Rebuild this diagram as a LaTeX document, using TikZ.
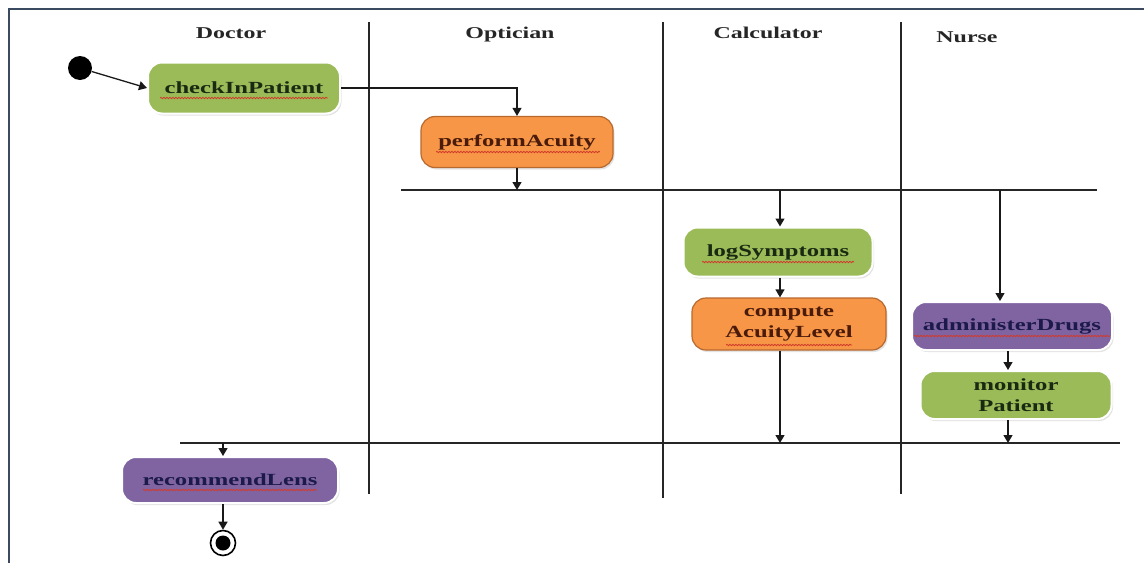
\documentclass[tikz,border=0pt]{standalone}
\usepackage{fontspec}
\setmainfont{Liberation Serif}[FakeStretch=1.45]
\usetikzlibrary{arrows.meta,shadows,decorations.pathmorphing,calc}
\definecolor{frameblue}{HTML}{3A4A60}
\definecolor{actgreen}{HTML}{9BBB59}
\definecolor{actorange}{HTML}{F79646}
\definecolor{orangeedge}{HTML}{B8692E}
\definecolor{actpurple}{HTML}{8064A2}
\definecolor{txtgreen}{HTML}{1A2A12}
\definecolor{txtorange}{HTML}{4A1A0A}
\definecolor{txtpurple}{HTML}{1C1A4A}
\definecolor{squigred}{HTML}{D03A2A}
\tikzset{
  lanetitle/.style={font=\fontsize{16.5}{19}\selectfont\bfseries, text=black!85},
  actbase/.style={rounded corners=14pt, align=center, inner sep=0pt,
    font=\fontsize{17}{21}\selectfont\bfseries,
    drop shadow={opacity=0.22, shadow xshift=1.5pt, shadow yshift=-2pt}},
  greenact/.style={actbase, fill=actgreen, draw=white, line width=2pt, text=txtgreen},
  orangeact/.style={actbase, fill=actorange, draw=orangeedge, line width=1.2pt, text=txtorange},
  purpleact/.style={actbase, fill=actpurple, draw=white, line width=2pt, text=txtpurple},
  laneline/.style={draw=black!85, line width=1.4pt},
  barline/.style={draw=black!85, line width=1.3pt},
  arr/.style={draw=black!90, line width=1.3pt, -{Triangle[width=9pt,length=8pt]}},
  squig/.style={draw=squigred, line width=0.8pt, decorate,
    decoration={snake, amplitude=0.7pt, segment length=3pt}},
}
\begin{document}
\begin{tikzpicture}[x=1pt,y=-1pt]
\useasboundingbox (0,0) rectangle (1144,563);
\fill[white] (0,0) rectangle (1144,563);
% frame
\coordinate (ftl) at (9,9);
\coordinate (ftr) at (1144,9);
\coordinate (fbl) at (9,563);
\draw[frameblue, line width=2pt] (ftr) -- (ftl) -- (fbl);
% lane titles
\node[lanetitle] (tdoc) at (231,33) {Doctor};
\node[lanetitle] (topt) at (510,35) {Optician};
\node[lanetitle] (tcal) at (768,33) {Calculator};
\node[lanetitle] (tnur) at (967,37) {Nurse};
% lane lines
\coordinate (l1t) at (369,22); \coordinate (l1b) at (369,494);
\coordinate (l2t) at (663,22); \coordinate (l2b) at (663,498);
\coordinate (l3t) at (901,22); \coordinate (l3b) at (901,494);
\draw[laneline] (l1t) -- (l1b);
\draw[laneline] (l2t) -- (l2b);
\draw[laneline] (l3t) -- (l3b);
% bars
\coordinate (b1l) at (401,190); \coordinate (b1r) at (1097,190);
\coordinate (b2l) at (180,443); \coordinate (b2r) at (1120,443);
\draw[barline] (b1l) -- (b1r);
\draw[barline] (b2l) -- (b2r);
% start
\node[circle, fill=black, minimum size=24pt, inner sep=0pt] (start) at (80,68) {};
% activities
\node[greenact, minimum width=192pt, minimum height=51pt] (check) at (244,88) {checkInPatient};
\node[orangeact, minimum width=192pt, minimum height=51pt] (perform) at (517,142) {performAcuity};
\node[greenact, minimum width=189pt, minimum height=49pt] (logs) at (778,252) {logSymptoms};
\node[orangeact, minimum width=194pt, minimum height=52pt] (compute) at (789,324) {compute\\AcuityLevel};
\node[purpleact, minimum width=200pt, minimum height=48pt] (admin) at (1012,326) {administerDrugs};
\node[greenact, minimum width=191pt, minimum height=48pt] (monitor) at (1016,395) {monitor\\Patient};
\node[purpleact, minimum width=216pt, minimum height=46pt] (recom) at (230,480) {recommendLens};
% end
\node[circle, draw=black, line width=1.6pt, fill=white, minimum size=25pt, inner sep=0pt] (endc) at (223,543) {};
\node[circle, fill=black, minimum size=15pt, inner sep=0pt] (endi) at (endc) {};
% squiggles
\draw[squig] ($(check.center)+(-84,10)$) -- ++(168,0);
\draw[squig] ($(perform.center)+(-81,10)$) -- ++(164,0);
\draw[squig] ($(logs.center)+(-76,10)$) -- ++(152,0);
\draw[squig] ($(compute.center)+(-63,21)$) -- ++(126,0);
\draw[squig] ($(admin.center)+(-98,10)$) -- ++(196,0);
\draw[squig] ($(recom.center)+(-87,10)$) -- ++(174,0);
% connectors
\draw[arr] (start) -- (check.west);
\draw[arr] (check.east) -| (perform.north);
\draw[arr] (perform.south) -- (perform.south |- b1l);
\coordinate (f1) at (780,190);
\draw[arr] (f1) -- (f1 |- logs.north);
\coordinate (f2) at (1000,190);
\draw[arr] (f2) -- (f2 |- admin.north);
\coordinate (c1) at (780,0);
\draw[arr] (c1 |- logs.south) -- (c1 |- compute.north);
\draw[arr] (c1 |- compute.south) -- (c1 |- b2l);
\coordinate (c2) at (1008,0);
\draw[arr] (c2 |- admin.south) -- (c2 |- monitor.north);
\draw[arr] (c2 |- monitor.south) -- (c2 |- b2l);
\coordinate (j1) at (223,443);
\draw[arr] (j1) -- (j1 |- recom.north);
\draw[arr] (j1 |- recom.south) -- (endc.north);
\end{tikzpicture}
\end{document}
